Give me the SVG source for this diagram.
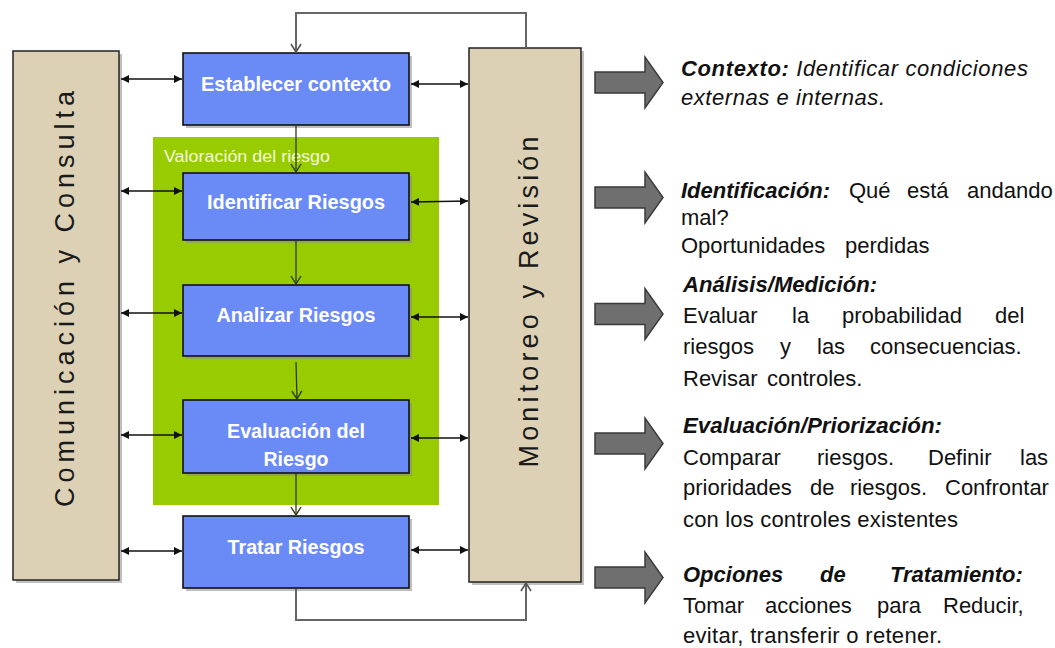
<svg xmlns="http://www.w3.org/2000/svg" width="1055" height="648" viewBox="0 0 1055 648">
<style>
  .tan { fill: #dcd1b5; stroke: #222; stroke-width: 1.5; }
  .blue { fill: #6a8bf6; stroke: #111; stroke-width: 1.6; }
  .shadow { fill: #8a8a8a; opacity: 0.55; }
  .btxt { font-family: "Liberation Sans", Arial, sans-serif; font-weight: bold; font-size: 20px; fill: #ffffff; text-anchor: middle; }
  .side { font-family: "Liberation Sans", Arial, sans-serif; font-size: 27px; fill: #1a1a1a; text-anchor: middle; }
  .dbl { stroke: #111; stroke-width: 1.5; fill: none; marker-start: url(#ah); marker-end: url(#ah); }
  .flow { stroke: #2d3a10; stroke-width: 1.3; fill: none; marker-end: url(#open); }
  .loop { stroke: #666; stroke-width: 2; fill: none; marker-end: url(#openg); }
  .rt { font-family: "Liberation Sans", Arial, sans-serif; font-size: 22px; fill: #111; }
  .bi { font-weight: bold; font-style: italic; }
  .it { font-style: italic; }
  .garrow { fill: #6f6f6f; stroke: #3a3a3a; stroke-width: 1.5; }
</style>
<defs>
  <marker id="ah" markerUnits="userSpaceOnUse" markerWidth="9" markerHeight="8" refX="8" refY="4" orient="auto-start-reverse">
    <path d="M0,0 L8,4 L0,8 z" fill="#111"/>
  </marker>
  <marker id="open" markerUnits="userSpaceOnUse" markerWidth="12" markerHeight="12" refX="9" refY="6" orient="auto">
    <path d="M1,1 L9,6 L1,11" fill="none" stroke="#2d3a10" stroke-width="1.4"/>
  </marker>
  <marker id="openg" markerUnits="userSpaceOnUse" markerWidth="12" markerHeight="12" refX="9" refY="6" orient="auto">
    <path d="M1,1 L9,6 L1,11" fill="none" stroke="#555" stroke-width="1.6"/>
  </marker>
  <path id="bigarrow" d="M595,-10.5 L645,-10.5 L645,-25.5 L663,0 L645,25.5 L645,10.5 L595,10.5 Z"/>
</defs>

<rect width="1055" height="648" fill="#ffffff"/>

<g id="valoracion">
  <rect x="153" y="137" width="286" height="368" fill="#99cc00"/>
  <text x="164" y="162" font-family="Liberation Sans, Arial, sans-serif" font-size="17" fill="#f3f9dc" textLength="166" lengthAdjust="spacingAndGlyphs">Valoración del riesgo</text>
</g>

<g id="comunicacion">
  <rect class="shadow" x="16" y="54" width="106" height="529"/>
  <rect class="tan" x="13" y="51" width="106" height="529"/>
  <text class="side" transform="translate(74,299) rotate(-90)" textLength="416" lengthAdjust="spacing">Comunicación y Consulta</text>
</g>

<g id="monitoreo">
  <rect class="shadow" x="472" y="51" width="112" height="534"/>
  <rect class="tan" x="469" y="48" width="112" height="534"/>
  <text class="side" transform="translate(538,302) rotate(-90)" textLength="331" lengthAdjust="spacing">Monitoreo y Revisión</text>
</g>

<g id="establecer">
  <rect class="shadow" x="186" y="56" width="226" height="72"/>
  <rect class="blue" x="183" y="53" width="226" height="72"/>
  <text class="btxt" x="296" y="91" textLength="190" lengthAdjust="spacingAndGlyphs">Establecer contexto</text>
</g>

<g id="identificar">
  <rect class="shadow" x="186" y="176" width="226" height="67"/>
  <rect class="blue" x="183" y="173" width="226" height="67"/>
  <text class="btxt" x="296" y="209" textLength="178" lengthAdjust="spacingAndGlyphs">Identificar Riesgos</text>
</g>

<g id="analizar">
  <rect class="shadow" x="186" y="288" width="226" height="71"/>
  <rect class="blue" x="183" y="285" width="226" height="71"/>
  <text class="btxt" x="296" y="322" textLength="159" lengthAdjust="spacingAndGlyphs">Analizar Riesgos</text>
</g>

<g id="evaluacion">
  <rect class="shadow" x="186" y="403" width="226" height="73"/>
  <rect class="blue" x="183" y="400" width="226" height="73"/>
  <text class="btxt" x="296" y="438" textLength="138" lengthAdjust="spacingAndGlyphs">Evaluación del</text>
  <text class="btxt" x="296" y="466" textLength="65" lengthAdjust="spacingAndGlyphs">Riesgo</text>
</g>

<g id="tratar">
  <rect class="shadow" x="186" y="519" width="226" height="72"/>
  <rect class="blue" x="183" y="516" width="226" height="72"/>
  <text class="btxt" x="296" y="554" textLength="137" lengthAdjust="spacingAndGlyphs">Tratar Riesgos</text>
</g>

<g id="connectors">
  <line class="dbl" x1="121" y1="79" x2="182" y2="79"/>
  <line class="dbl" x1="121" y1="191" x2="182" y2="191"/>
  <line class="dbl" x1="121" y1="313" x2="182" y2="313"/>
  <line class="dbl" x1="121" y1="435" x2="182" y2="435"/>
  <line class="dbl" x1="121" y1="551" x2="182" y2="551"/>
  <line class="dbl" x1="411" y1="84" x2="468" y2="84"/>
  <line class="dbl" x1="411" y1="202" x2="468" y2="201"/>
  <line class="dbl" x1="411" y1="317" x2="468" y2="317"/>
  <line class="dbl" x1="411" y1="438" x2="468" y2="438"/>
  <line class="dbl" x1="411" y1="550" x2="468" y2="550"/>
  <line class="flow" x1="296" y1="126" x2="296" y2="172"/>
  <line class="flow" x1="296" y1="241" x2="296" y2="284"/>
  <line class="flow" x1="296" y1="362" x2="297" y2="399"/>
  <line class="flow" x1="296" y1="474" x2="296" y2="515"/>
  <polyline class="loop" points="526,48 526,13 296,13 296,52"/>
  <polyline class="loop" points="296,589 296,620 526,620 526,583"/>
</g>

<g id="side-arrows">
  <use href="#bigarrow" class="garrow" transform="translate(0,82.5)"/>
  <use href="#bigarrow" class="garrow" transform="translate(0,197.5)"/>
  <use href="#bigarrow" class="garrow" transform="translate(0,314)"/>
  <use href="#bigarrow" class="garrow" transform="translate(0,443.5)"/>
  <use href="#bigarrow" class="garrow" transform="translate(0,577.5)"/>
</g>

<g id="descripciones" class="rt">
  <text y="76" textLength="347" lengthAdjust="spacing"><tspan x="681" class="bi">Contexto:</tspan><tspan class="it"> Identificar condiciones</tspan></text>
  <text x="681" y="105" class="it" textLength="204" lengthAdjust="spacing">externas e internas.</text>

  <text y="198"><tspan x="681" class="bi">Identificación:</tspan><tspan x="849">Qué</tspan><tspan x="907">está</tspan><tspan x="967">andando</tspan></text>
  <text x="681" y="225">mal?</text>
  <text y="253"><tspan x="681">Oportunidades</tspan><tspan x="845">perdidas</tspan></text>

  <text x="683" y="292" class="bi" textLength="194" lengthAdjust="spacingAndGlyphs">Análisis/Medición:</text>
  <text y="323"><tspan x="683">Evaluar</tspan><tspan x="792">la</tspan><tspan x="842">probabilidad</tspan><tspan x="995">del</tspan></text>
  <text y="354"><tspan x="683">riesgos</tspan><tspan x="780">y</tspan><tspan x="817">las</tspan><tspan x="870">consecuencias.</tspan></text>
  <text y="386"><tspan x="683">Revisar</tspan><tspan x="767">controles.</tspan></text>

  <text x="683" y="433" class="bi" textLength="259" lengthAdjust="spacingAndGlyphs">Evaluación/Priorización:</text>
  <text y="465"><tspan x="683">Comparar</tspan><tspan x="817">riesgos.</tspan><tspan x="928">Definir</tspan><tspan x="1020">las</tspan></text>
  <text y="495"><tspan x="683">prioridades</tspan><tspan x="810">de</tspan><tspan x="850">riesgos.</tspan><tspan x="945">Confrontar</tspan></text>
  <text x="683" y="527" textLength="275" lengthAdjust="spacing">con los controles existentes</text>

  <text y="582"><tspan x="683" class="bi">Opciones</tspan><tspan x="820" class="bi">de</tspan><tspan x="890" class="bi">Tratamiento:</tspan></text>
  <text y="613"><tspan x="683">Tomar</tspan><tspan x="765">acciones</tspan><tspan x="877">para</tspan><tspan x="943">Reducir,</tspan></text>
  <text x="683" y="643" textLength="259" lengthAdjust="spacing">evitar, transferir o retener.</text>
</g>
</svg>
